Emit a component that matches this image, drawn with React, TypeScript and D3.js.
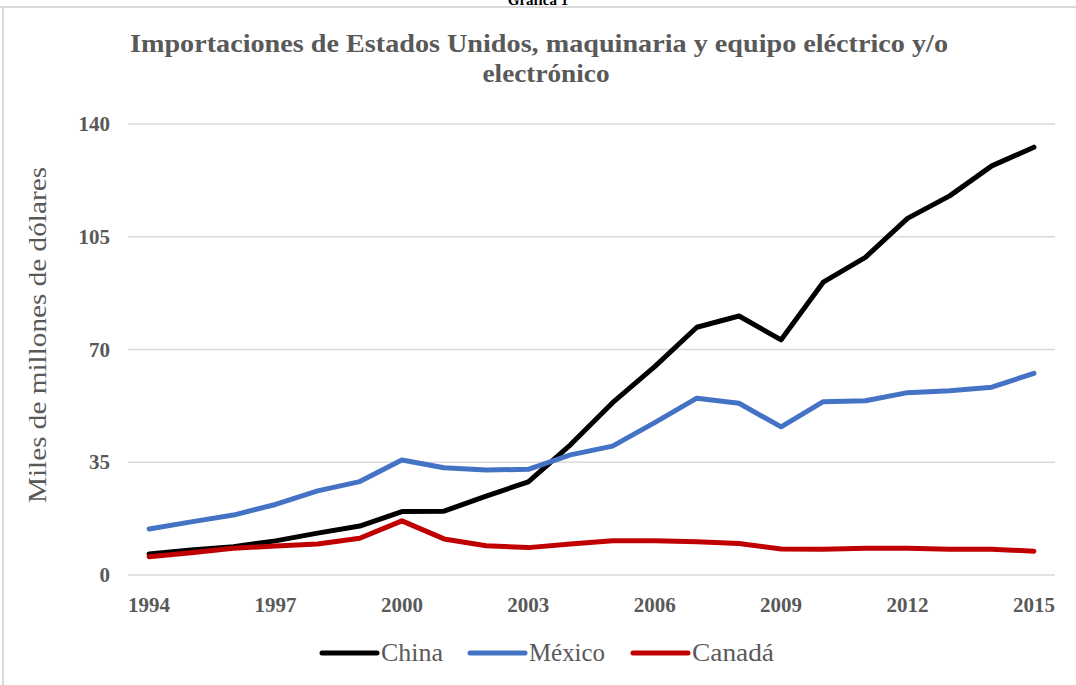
import React from "react";
import * as d3 from "d3";

const years = ["1994","1995","1996","1997","1998","1999","2000","2001","2002","2003","2004","2005","2006","2007","2008","2009","2010","2011","2012","2013","2014","2015"];
const xTickLabels = ["1994","1997","2000","2003","2006","2009","2012","2015"];
const yTicks = [0, 35, 70, 105, 140];

const china = [6.5,7.8,8.8,10.6,13.0,15.2,19.7,19.8,24.5,28.9,40.4,53.5,64.7,76.9,80.4,73.0,90.9,98.6,110.7,117.7,127.0,132.8];
const mexico = [14.3,16.5,18.6,21.9,26.1,29.0,35.7,33.3,32.6,32.8,37.3,40.0,47.3,54.9,53.3,46.0,53.8,54.1,56.6,57.2,58.3,62.6];
const canada = [5.7,6.9,8.3,9.0,9.6,11.4,16.8,11.2,9.1,8.5,9.6,10.6,10.6,10.3,9.8,8.1,8.0,8.3,8.3,8.0,8.0,7.4];

const seriesNames = ["China", "México", "Canadá"];
const seriesColors = ["#000000", "#4472C4", "#C00000"];
const seriesData = [china, mexico, canada];

const W = 1076, H = 685;
const FONT = "'Liberation Serif', 'DejaVu Serif', serif";
const GRAY = "#595959";

export default function App() {
  const x = d3.scaleBand<string>().domain(years).range([128, 1055]);
  const y = d3.scaleLinear().domain([0, 140]).range([575, 124]);
  const cx = (yr: string) => (x(yr) as number) + x.bandwidth() / 2;
  const line = d3.line<number>().x((_, i) => cx(years[i])).y((d) => y(d));

  const legendX = [322, 470, 633];
  const legendW = [62, 76, 82];

  return (
    <svg width={W} height={H} style={{ position: "absolute", left: 0, top: 0, background: "#fff" }}>
      <rect x={0} y={0} width={W} height={H} fill="#fff" />
      <text x={538} y={5} textAnchor="middle" fontFamily={FONT} fontWeight="bold" fontSize={15} fill="#000">Gráfica 1</text>
      <line x1={0} x2={W} y1={7} y2={7} stroke="#d9d9d9" strokeWidth={2} />
      <line x1={3} x2={3} y1={7} y2={H} stroke="#d9d9d9" strokeWidth={2} />
      <text x={539} y={52} textAnchor="middle" fontFamily={FONT} fontWeight="bold" fontSize={25} fill={GRAY}
        textLength={818} lengthAdjust="spacingAndGlyphs">
        Importaciones de Estados Unidos, maquinaria y equipo eléctrico y/o
      </text>
      <text x={546} y={82} textAnchor="middle" fontFamily={FONT} fontWeight="bold" fontSize={25} fill={GRAY}
        textLength={127} lengthAdjust="spacingAndGlyphs">
        electrónico
      </text>
      {yTicks.map((t) => (
        <g key={t}>
          <line x1={128} x2={1055} y1={y(t)} y2={y(t)} stroke="#d9d9d9" strokeWidth={1.5} />
          <text x={110} y={y(t) + 7} textAnchor="end" fontFamily={FONT} fontWeight="bold" fontSize={21} fill={GRAY}>{t}</text>
        </g>
      ))}
      {xTickLabels.map((t) => (
        <text key={t} x={cx(t)} y={612} textAnchor="middle" fontFamily={FONT} fontWeight="bold" fontSize={21} fill={GRAY}>{t}</text>
      ))}
      <text transform={`translate(46,335) rotate(-90)`} textAnchor="middle" fontFamily={FONT} fontSize={26} fill={GRAY}
        textLength={336} lengthAdjust="spacingAndGlyphs">
        Miles de millones de dólares
      </text>
      {seriesData.map((s, i) => (
        <path key={i} d={line(s) || ""} fill="none" stroke={seriesColors[i]} strokeWidth={5} strokeLinejoin="round" strokeLinecap="round" />
      ))}
      {seriesNames.map((n, i) => (
        <g key={n}>
          <line x1={legendX[i]} x2={legendX[i] + 55} y1={653} y2={653} stroke={seriesColors[i]} strokeWidth={5} strokeLinecap="round" />
          <text x={legendX[i] + 59} y={661} fontFamily={FONT} fontSize={25} fill={GRAY}
            textLength={legendW[i]} lengthAdjust="spacingAndGlyphs">{n}</text>
        </g>
      ))}
    </svg>
  );
}
